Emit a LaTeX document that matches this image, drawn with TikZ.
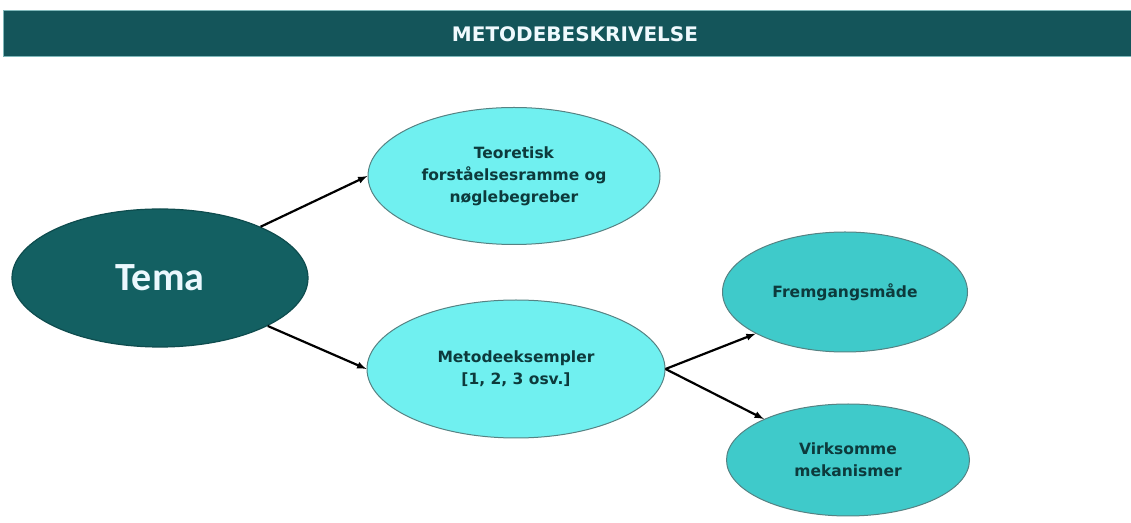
\documentclass[tikz,border=0pt]{standalone}
\usepackage{fontspec}
\setmainfont{Carlito}
\newfontfamily\bubblefont{DejaVu Sans}
\usetikzlibrary{positioning,shapes.geometric}

\definecolor{bannerteal}{HTML}{14555A}
\definecolor{bannerline}{HTML}{7FB8BA}
\definecolor{darkteal}{HTML}{136062}
\definecolor{edgeteal}{HTML}{0E4C4E}
\definecolor{lightcyan}{HTML}{70F0F0}
\definecolor{midcyan}{HTML}{3FCACA}
\definecolor{texteal}{HTML}{0D3A3C}

\tikzset{
  topic/.style={ellipse,draw=edgeteal,line width=1.2bp,fill=darkteal,inner sep=0pt,
    text=cyan!8,font=\fontsize{40bp}{44bp}\selectfont\bfseries},
  bubble/.style={ellipse,draw=edgeteal!70,line width=1bp,inner sep=0pt,align=center,
    text=texteal,font=\bubblefont\fontsize{15.5bp}{22bp}\selectfont\bfseries},
}

\begin{document}
\begin{tikzpicture}[>=latex,line join=bevel,]
%%
\useasboundingbox (0bp,0bp) rectangle (1131bp,523bp);
\node (banner) at (567bp,489bp) [rectangle,fill=bannerteal,draw=bannerline,line width=1bp,minimum width=1128bp,minimum height=46bp] {};
  \node (title) at (575bp,489bp) [text=cyan!6,font=\bubblefont\fontsize{20bp}{22bp}\selectfont\bfseries] {METODEBESKRIVELSE};
  \node (tema) at (160bp,245bp) [topic,minimum width=296bp,minimum height=138bp] {Tema};
  \node (teori) at (514bp,347bp) [bubble,fill=lightcyan,minimum width=292bp,minimum height=137bp] {Teoretisk\\forståelsesramme og\\nøglebegreber};
  \node (metode) at (516bp,154bp) [bubble,fill=lightcyan,minimum width=298bp,minimum height=138bp] {Metodeeksempler\\{}[1, 2, 3 osv.]};
  \node (frem) at (845bp,231bp) [bubble,fill=midcyan,minimum width=245bp,minimum height=120bp] {Fremgangsmåde};
  \node (virk) at (848bp,63bp) [bubble,fill=midcyan,minimum width=243bp,minimum height=112bp] {Virksomme\\mekanismer};
  \draw [black,->,line width=2.2bp] (tema.27) -- (teori.west);
  \draw [black,->,line width=2.2bp] (tema.336) -- (metode.west);
  \draw [black,->,line width=2.2bp] (metode.east) -- (frem.205);
  \draw [black,->,line width=2.2bp] (metode.east) -- (virk.154);
%
\end{tikzpicture}
\end{document}
